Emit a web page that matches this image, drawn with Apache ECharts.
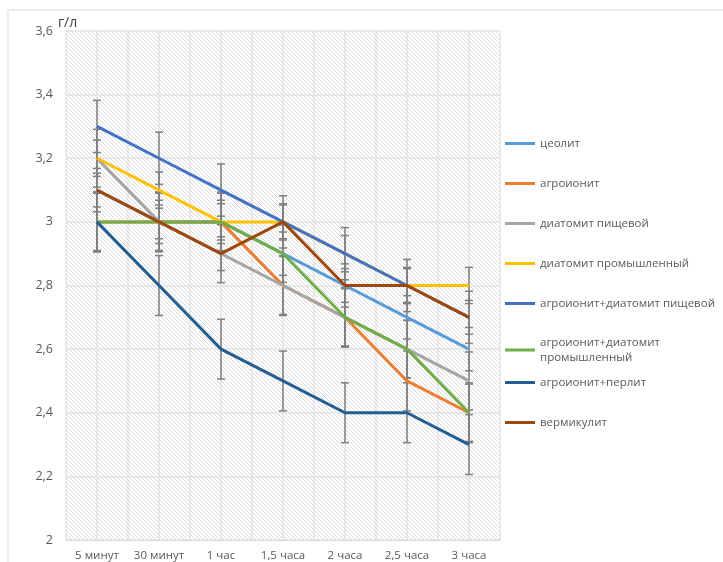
<!DOCTYPE html>
<html>
<head>
<meta charset="utf-8">
<script src="https://cdn.jsdelivr.net/npm/echarts@6/dist/echarts.min.js"></script>
<style>
  html, body { margin: 0; padding: 0; background: #fff; }
  #chart { width: 723px; height: 562px; }
</style>
</head>
<body>
<div id="chart"></div>
<script>
// Time points of the measurements
const categories = ['5 минут', '30 минут', '1 час', '1,5 часа', '2 часа', '2,5 часа', '3 часа'];

// Concentration, г/л, for each substrate
const seriesNames = [
  'цеолит',
  'агроионит',
  'диатомит пищевой',
  'диатомит промышленный',
  'агроионит+диатомит пищевой',
  'агроионит+диатомит промышленный',
  'агроионит+перлит',
  'вермикулит'
];
const zeolite          = [3.1, 3.0, 3.0, 2.9, 2.8, 2.7, 2.6];
const agroionite       = [3.0, 3.0, 3.0, 2.8, 2.7, 2.5, 2.4];
const diatomiteFood    = [3.2, 3.0, 2.9, 2.8, 2.7, 2.6, 2.5];
const diatomiteInd     = [3.2, 3.1, 3.0, 3.0, 2.9, 2.8, 2.8];
const agroDiatFood     = [3.3, 3.2, 3.1, 3.0, 2.9, 2.8, 2.7];
const agroDiatInd      = [3.0, 3.0, 3.0, 2.9, 2.7, 2.6, 2.4];
const agroPerlite      = [3.0, 2.8, 2.6, 2.5, 2.4, 2.4, 2.3];
const vermiculite      = [3.1, 3.0, 2.9, 3.0, 2.8, 2.8, 2.7];

// Standard error of each series (± around every point)
const stdErr = [0.068, 0.094, 0.091, 0.057, 0.082, 0.090, 0.094, 0.053];

// Y axis ticks and unit
const yMin = 2, yMax = 3.6, yStep = 0.2;
const yUnit = 'г/л';

const seriesValues = [zeolite, agroionite, diatomiteFood, diatomiteInd,
                      agroDiatFood, agroDiatInd, agroPerlite, vermiculite];
const colors = ['#5B9BD5', '#ED7D31', '#A5A5A5', '#FFC000',
                '#4472C4', '#70AD47', '#255E91', '#9E480E'];

// Diagonal hatch fill for the plot area
function hatchPattern() {
  const c = document.createElement('canvas');
  c.width = 4; c.height = 4;
  const ctx = c.getContext('2d');
  const img = ctx.createImageData(4, 4);
  for (let y = 0; y < 4; y++) {
    for (let x = 0; x < 4; x++) {
      const i = (y * 4 + x) * 4;
      const on = ((x - y + 8) % 4) === 0;
      const v = on ? 219 : 255;
      img.data[i] = v; img.data[i + 1] = v; img.data[i + 2] = v; img.data[i + 3] = 255;
    }
  }
  ctx.putImageData(img, 0, 0);
  return { image: c, repeat: 'repeat' };
}

const font = "'Open Sans', 'Noto Sans', sans-serif";
const chart = echarts.init(document.getElementById('chart'), null, { renderer: 'canvas' });

const lineSeries = seriesNames.map((name, k) => ({
  name: name,
  type: 'line',
  xAxisIndex: 0,
  yAxisIndex: 0,
  data: seriesValues[k],
  symbol: 'none',
  showSymbol: false,
  color: colors[k],
  lineStyle: { width: 3, color: colors[k] },
  z: 3,
  animation: false
}));

const errorSeries = seriesNames.map((name, k) => ({
  name: name + ' (погрешность)',
  type: 'custom',
  xAxisIndex: 0,
  yAxisIndex: 0,
  data: seriesValues[k].map((v, i) => [i, v, stdErr[k]]),
  encode: { x: 0, y: 1 },
  z: 2,
  silent: true,
  animation: false,
  renderItem: function (params, api) {
    const i = api.value(0), v = api.value(1), e = api.value(2);
    const top = api.coord([i, v + e]);
    const bot = api.coord([i, v - e]);
    const hw = 4;
    const style = { stroke: '#7F7F7F', lineWidth: 1.5, fill: null };
    return {
      type: 'group',
      children: [
        { type: 'line', shape: { x1: top[0], y1: top[1], x2: bot[0], y2: bot[1] }, style: style },
        { type: 'line', shape: { x1: top[0] - hw, y1: top[1], x2: top[0] + hw, y2: top[1] }, style: style },
        { type: 'line', shape: { x1: bot[0] - hw, y1: bot[1], x2: bot[0] + hw, y2: bot[1] }, style: style }
      ]
    };
  }
}));

const legendCommon = {
  orient: 'vertical',
  left: 505,
  padding: 0,
  icon: 'rect',
  itemWidth: 30,
  itemHeight: 3,
  itemGap: 25,
  selectedMode: false,
  textStyle: { fontFamily: font, fontSize: 11.5, color: '#595959', lineHeight: 15, padding: [0, 0, 0, 0] },
  formatter: function (n) {
    return n === 'агроионит+диатомит промышленный' ? 'агроионит+диатомит\nпромышленный' : n;
  }
};

chart.setOption({
  backgroundColor: '#ffffff',
  animation: false,
  textStyle: { fontFamily: font },
  graphic: [{
    type: 'rect',
    shape: { x: 8, y: 10, width: 740, height: 600 },
    style: { fill: null, stroke: '#D9D9D9', lineWidth: 1 },
    silent: true,
    z: -10
  }, {
    // unit caption above the value axis
    type: 'text',
    left: 58,
    top: 16,
    style: { text: yUnit, fill: '#404040', font: "14px 'Open Sans', 'Noto Sans', sans-serif" },
    silent: true
  }],
  grid: {
    left: 66, right: 223, top: 31, bottom: 22,
    show: true,
    borderWidth: 0,
    backgroundColor: hatchPattern()
  },
  legend: [
    Object.assign({}, legendCommon, { top: 136, data: seriesNames.slice(0, 5) }),
    Object.assign({}, legendCommon, { top: 335, data: seriesNames.slice(5, 6) }),
    Object.assign({}, legendCommon, { top: 375, data: seriesNames.slice(6) })
  ],
  xAxis: [{
    type: 'category',
    data: categories,
    boundaryGap: true,
    axisLine: { show: true, lineStyle: { color: '#D9D9D9', width: 1 } },
    axisTick: { show: false },
    splitLine: { show: false },
    axisLabel: { color: '#595959', fontSize: 11.5, margin: 10, interval: 0, fontFamily: font }
  }, {
    // half-category grid lines
    type: 'value',
    min: 0, max: categories.length * 2, interval: 1,
    position: 'bottom',
    show: true,
    axisLine: { show: false },
    axisTick: { show: false },
    axisLabel: { show: false },
    splitLine: { show: true, lineStyle: { color: '#E3E3E3', width: 1.5 } }
  }],
  yAxis: {
    type: 'value',
    min: yMin, max: yMax, interval: yStep,
    axisLine: { show: false },
    axisTick: { show: false },
    axisLabel: {
      color: '#595959', fontSize: 12.5, margin: 13, fontFamily: font,
      formatter: v => String(Math.round(v * 10) / 10).replace('.', ',')
    },
    splitLine: { show: true, lineStyle: { color: '#E3E3E3', width: 1.5 } }
  },
  series: errorSeries.concat(lineSeries)
});
</script>
</body>
</html>
